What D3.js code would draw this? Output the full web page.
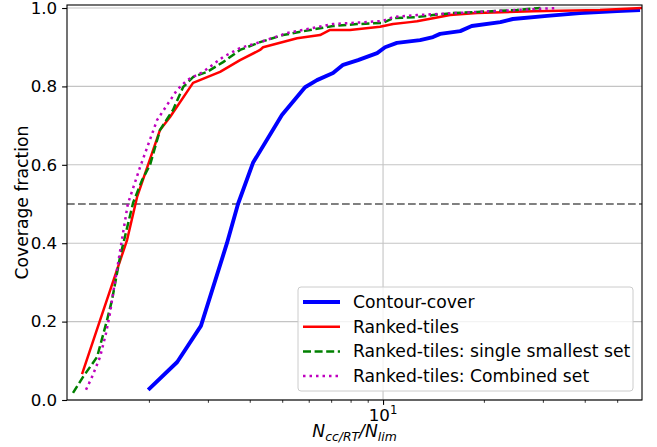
<!DOCTYPE html>
<html><head><meta charset="utf-8">
<script src="https://cdn.jsdelivr.net/npm/d3@7"></script>
<style>
body{margin:0;background:#fff}
svg{display:block}
text{font-family:"DejaVu Sans",sans-serif;fill:#000}
</style>
</head><body>
<svg id="chart" width="657" height="447"></svg>
<script>
// Cumulative coverage fraction versus N_cc/RT / N_lim for each tiling strategy
const contourX = [1.99,2.43,2.86,3.42,3.69,4.09,4.99,5.85,6.35,7.09,7.6,8.42,9.6,10.14,11.0,12.9,14.1,14.8,17.0,18.4,22.4,24.4,30.9,38.7,50,58.5];
const contourY = [0.026,0.097,0.189,0.40,0.50,0.605,0.727,0.798,0.816,0.834,0.855,0.867,0.885,0.90,0.911,0.918,0.926,0.934,0.941,0.954,0.964,0.972,0.980,0.987,0.992,0.995];

const rankedX = [1.263,1.430,1.721,1.844,2.159,2.313,2.709,3.262,3.742,4.294,4.384,5.538,6.485,6.947,7.969,9.795,10.71,12.04,12.63,14.10,15.85,19.08,28.04,44.44,59.3];
const rankedY = [0.066,0.204,0.408,0.518,0.689,0.722,0.809,0.837,0.867,0.893,0.90,0.923,0.931,0.944,0.944,0.952,0.959,0.964,0.966,0.974,0.982,0.987,0.992,0.995,1.0];

const singleX = [1.187,1.272,1.401,1.500,1.552,1.640,1.794,1.908,2.016,2.159,2.361,2.529,2.709,2.983,3.330,3.742,4.294,5.028,6.055,7.091,8.363,10,10.71,12.63,14.10,16.18,19.08,25.12,29.5];
const singleY = [0.018,0.059,0.110,0.204,0.255,0.365,0.503,0.561,0.60,0.689,0.740,0.798,0.824,0.837,0.862,0.893,0.913,0.931,0.944,0.954,0.959,0.962,0.974,0.977,0.982,0.987,0.990,0.995,1.0];

const combinedX = [1.298,1.353,1.430,1.490,1.531,1.552,1.655,1.73,1.882,2.115,2.427,2.599,2.902,3.330,3.742,4.294,5.168,7.091,10,10.71,12.63,19.08,25.12,33.07];
const combinedY = [0.026,0.059,0.110,0.171,0.222,0.255,0.40,0.50,0.594,0.714,0.791,0.816,0.837,0.875,0.898,0.913,0.936,0.959,0.967,0.977,0.982,0.990,0.995,1.0];

const seriesNames = ["Contour-cover","Ranked-tiles","Ranked-tiles: single smallest set","Ranked-tiles: Combined set"];
const yTicks = [0,0.2,0.4,0.6,0.8,1.0];
const xMajorTicks = [10];
const xMinorTicks = [2,3,4,5,6,7,8,9,20,30,40,50];
const xDomain = [1.139, 59.3];
const yDomain = [0, 1.0077];
const thresholdLevel = 0.5;

const series = [
  {name: seriesNames[0], xs: contourX, ys: contourY, color: "#0000ff", width: 3.9, dash: null},
  {name: seriesNames[1], xs: rankedX, ys: rankedY, color: "#ff0000", width: 2.5, dash: null},
  {name: seriesNames[2], xs: singleX, ys: singleY, color: "#008000", width: 2.5, dash: "8,3.6"},
  {name: seriesNames[3], xs: combinedX, ys: combinedY, color: "#bf00bf", width: 2.5, dash: "2.5,4"}
];

const svg = d3.select("#chart");
const plotL = 67, plotR = 642, plotT = 5, plotB = 400;
const x = d3.scaleLog().domain(xDomain).range([plotL, plotR]);
const y = d3.scaleLinear().domain(yDomain).range([plotB, plotT]);
const FS = 16.7, LFS = 17.2;

svg.append("defs").append("clipPath").attr("id","plotClip")
  .append("rect").attr("x",plotL).attr("y",plotT).attr("width",plotR-plotL).attr("height",plotB-plotT);

// grid
const grid = svg.append("g");
grid.selectAll("line.gy").data(yTicks).join("line").attr("class","gy")
  .attr("x1",plotL).attr("x2",plotR)
  .attr("y1",d=>y(d)).attr("y2",d=>y(d))
  .attr("stroke","#c4c4c4").attr("stroke-width",1.1);
grid.selectAll("line.gx").data(xMajorTicks).join("line").attr("class","gx")
  .attr("x1",d=>x(d)).attr("x2",d=>x(d))
  .attr("y1",plotT).attr("y2",plotB)
  .attr("stroke","#c4c4c4").attr("stroke-width",1.1);

// 50% coverage reference
svg.append("line")
  .attr("x1",plotL).attr("x2",plotR)
  .attr("y1",y(thresholdLevel)).attr("y2",y(thresholdLevel))
  .attr("stroke","#808080").attr("stroke-width",2.1)
  .attr("stroke-dasharray","7.7,3.3");

// curves
const line = d3.line().x(d=>x(d[0])).y(d=>y(d[1]));
const curves = svg.append("g").attr("clip-path","url(#plotClip)");
series.forEach(s=>{
  const pts = s.xs.map((v,i)=>[v, s.ys[i]]);
  curves.append("path").datum(pts)
    .attr("d",line)
    .attr("fill","none")
    .attr("stroke",s.color)
    .attr("stroke-width",s.width)
    .attr("stroke-linejoin","round")
    .attr("stroke-dasharray",s.dash);
});

// spines
svg.append("rect").attr("x",plotL).attr("y",plotT)
  .attr("width",plotR-plotL).attr("height",plotB-plotT)
  .attr("fill","none").attr("stroke","#000").attr("stroke-width",1.1);

// y axis
const yAxis = d3.axisLeft(y).tickValues(yTicks).tickFormat(d3.format(".1f"))
  .tickSize(4.9).tickPadding(4.9);
const gy = svg.append("g").attr("transform",`translate(${plotL},0)`).call(yAxis);
gy.select(".domain").remove();
gy.selectAll(".tick line").attr("stroke","#000").attr("stroke-width",1.1);
gy.selectAll(".tick text").attr("font-size",FS).attr("font-family","DejaVu Sans").attr("fill","#000");

// x axis: major and minor ticks
const gx = svg.append("g").attr("transform",`translate(0,${plotB})`);
gx.call(d3.axisBottom(x).tickValues(xMinorTicks).tickFormat("").tickSize(2.8));
gx.select(".domain").remove();
gx.selectAll(".tick line").attr("stroke","#000").attr("stroke-width",0.8);
const gxM = svg.append("g").attr("transform",`translate(0,${plotB})`);
gxM.call(d3.axisBottom(x).tickValues(xMajorTicks).tickFormat("").tickSize(4.9));
gxM.select(".domain").remove();
gxM.selectAll(".tick line").attr("stroke","#000").attr("stroke-width",1.1);
xMajorTicks.forEach(v=>{
  const exp = Math.round(Math.log10(v));
  const t = svg.append("text").attr("x",x(v)).attr("y",plotB+20.5)
    .attr("text-anchor","middle").attr("font-size",FS);
  t.append("tspan").text("10");
  t.append("tspan").attr("font-size",FS*0.7).attr("dy",-6.5).text(String(exp));
});

// axis titles
svg.append("text")
  .attr("transform",`translate(22,${(plotT+plotB)/2}) rotate(-90)`)
  .attr("text-anchor","middle").attr("dominant-baseline","central")
  .attr("font-size",LFS).text("Coverage fraction");

const xl = svg.append("text").attr("x",(plotL+plotR)/2).attr("y",437)
  .attr("text-anchor","middle").attr("font-size",LFS).attr("font-style","italic");
xl.append("tspan").text("N");
xl.append("tspan").attr("font-size",LFS*0.72).attr("dy",4).text("cc/RT");
xl.append("tspan").attr("dy",-4).text("/N");
xl.append("tspan").attr("font-size",LFS*0.72).attr("dy",4).text("lim");

// legend
const lg = svg.append("g");
lg.append("rect").attr("x",298).attr("y",287).attr("width",335).attr("height",104)
  .attr("rx",3).attr("fill","#fff").attr("fill-opacity",0.8)
  .attr("stroke","#cccccc").attr("stroke-width",1);
series.forEach((s,i)=>{
  const yy = 302 + i*24.7;
  lg.append("line").attr("x1",303).attr("x2",340).attr("y1",yy).attr("y2",yy)
    .attr("stroke",s.color).attr("stroke-width",s.width)
    .attr("stroke-dasharray",s.dash);
  lg.append("text").attr("x",353).attr("y",yy).attr("dominant-baseline","central")
    .attr("font-size",LFS).text(s.name);
});
</script>
</body></html>
